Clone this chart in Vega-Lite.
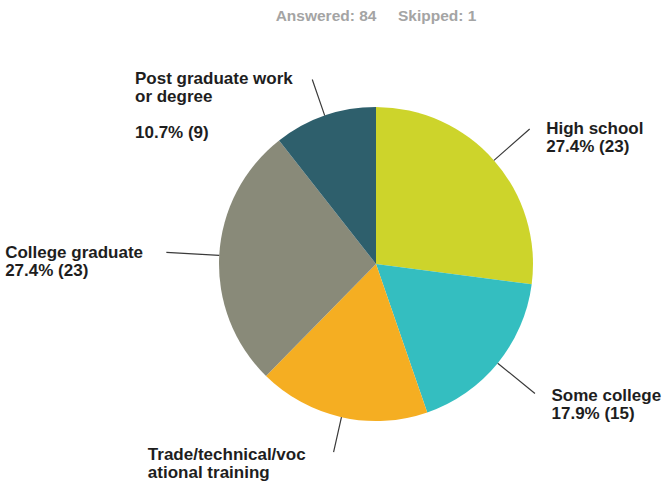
{
  "$schema": "https://vega.github.io/schema/vega-lite/v6.json",
  "autosize": "none",
  "width": 576,
  "height": 434,
  "padding": {"left": 88, "right": 0, "top": 47, "bottom": 2},
  "background": "white",
  "title": {
    "text": "Answered: 84\u00a0\u00a0\u00a0\u00a0\u00a0Skipped: 1",
    "font": "Liberation Sans",
    "fontSize": 15.5,
    "fontWeight": "bold",
    "color": "#A4A4A4",
    "anchor": "middle",
    "offset": 23
  },
  "data": {
    "values": [
      {"category": "High school", "count": 23, "order": 1, "label": "High school\n27.4% (23)"},
      {"category": "Some college", "count": 15, "order": 2, "label": "Some college\n17.9% (15)"},
      {"category": "Trade/technical/vocational training", "count": 15, "order": 3, "label": "Trade/technical/voc\national training"},
      {"category": "College graduate", "count": 23, "order": 4, "label": "College graduate\n27.4% (23)"},
      {"category": "Post graduate work or degree", "count": 9, "order": 5, "label": "Post graduate work\nor degree\n\u200b\n10.7% (9)"}
    ]
  },
  "encoding": {
    "theta": {"field": "count", "type": "quantitative", "stack": true},
    "order": {"field": "order", "type": "quantitative", "sort": "ascending"}
  },
  "layer": [
    {
      "mark": {"type": "arc", "radius": 157},
      "encoding": {
        "color": {
          "field": "category",
          "type": "nominal",
          "scale": {
            "domain": ["High school", "Some college", "Trade/technical/vocational training", "College graduate", "Post graduate work or degree"],
            "range": ["#CDD42B", "#34BEC0", "#F5AE22", "#898A79", "#2E5F6C"]
          },
          "legend": null
        }
      }
    },
    {
      "mark": {
        "type": "arc",
        "radius": {"expr": "188 + 22 * abs(sin((datum.count_start + datum.count_end) / 85 * PI))"},
        "radius2": 157,
        "padAngle": 3,
        "fill": null,
        "fillOpacity": 0,
        "stroke": "#3A3A3A",
        "strokeWidth": 1.2
      }
    },
    {
      "mark": {
        "type": "text",
        "radius": {"expr": "190 + 22 * abs(sin((datum.count_start + datum.count_end) / 85 * PI))"},
        "font": "Liberation Sans",
        "fontSize": 17,
        "fontWeight": "bold",
        "color": "#1E1E1E",
        "lineBreak": "\n",
        "lineHeight": 18,
        "align": "left",
        "dx": {"expr": "(datum.count_start + datum.count_end) / 2 < 42.5 ? 15 : -20 - 8.7 * indexof(datum.label, '\\n')"},
        "dy": 6,
        "baseline": "alphabetic"
      },
      "encoding": {
        "text": {"field": "label", "type": "nominal"}
      }
    }
  ]
}
